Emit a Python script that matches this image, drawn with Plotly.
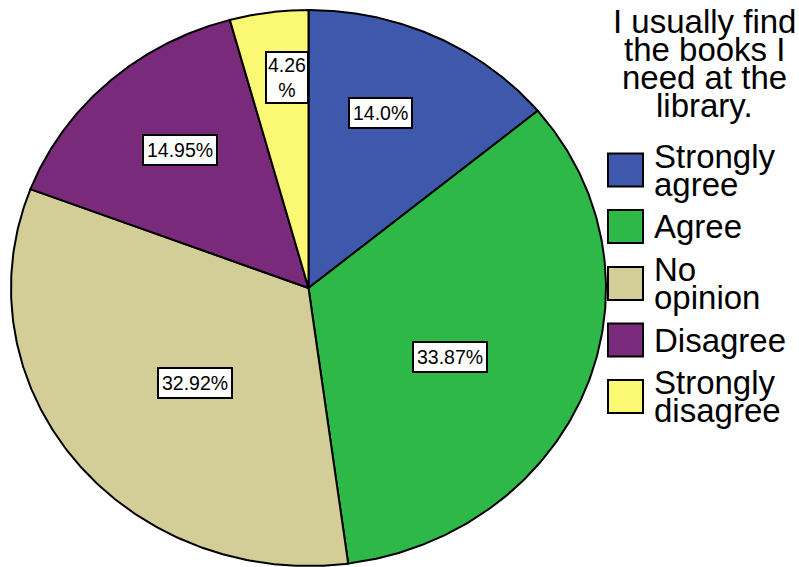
import numpy as np
import plotly.graph_objects as go

# Survey responses: "I usually find the books I need at the library."
title_lines = ["I usually find", "the books I", "need at the", "library."]
categories = ["Strongly agree", "Agree", "No opinion", "Disagree", "Strongly disagree"]
percents = [14.0, 33.87, 32.92, 14.95, 4.26]
colors = ["#3E58AC", "#2EB848", "#D3CE97", "#7A2A7A", "#FBF873"]

# Geometry (canvas pixels, y downwards)
W, H = 799, 567
CX, CY = 308.5, 288.0
RX, RY = 297.5, 278.0
FONT = "Liberation Sans, Arial, Helvetica, sans-serif"

# Data-label box centres, one per slice
label_pos = [(380, 113), (450, 357), (195, 383), (180, 150), (286.5, 77)]

fig = go.Figure()

# Slices, clockwise from 12 o'clock
start = 0.0
for cat, pct, col in zip(categories, percents, colors):
    a0 = start / 100 * 2 * np.pi
    a1 = (start + pct) / 100 * 2 * np.pi
    t = np.linspace(a0, a1, 200)
    xs = np.concatenate([[CX], CX + RX * np.sin(t), [CX]])
    ys = np.concatenate([[CY], CY - RY * np.cos(t), [CY]])
    fig.add_trace(go.Scatter(
        x=xs, y=ys, mode="lines", fill="toself", fillcolor=col,
        line=dict(color="black", width=2), name=cat,
        hoverinfo="name", showlegend=False,
    ))
    start += pct

annotations = []

# Percentage labels in white boxes
for pct, (lx, ly) in zip(percents, label_pos):
    txt = f"{pct}%"
    pad = 3
    if pct < 5:
        txt = f"{pct}<br>%"
        pad = 1
    annotations.append(dict(
        x=lx, y=ly, xref="x", yref="y", text=txt, showarrow=False,
        font=dict(family=FONT, size=19.5, color="black"),
        bgcolor="white", bordercolor="black", borderwidth=2, borderpad=pad,
        xanchor="center", yanchor="middle",
    ))

# Legend title
LFS = 33
def mid_from_baseline(b, size):
    return b - 0.33 * size

for i, line in enumerate(title_lines):
    annotations.append(dict(
        x=704, y=mid_from_baseline(32 + 28 * i, LFS), xref="x", yref="y",
        text=line, showarrow=False, xanchor="center", yanchor="middle",
        font=dict(family=FONT, size=LFS, color="black"),
    ))

# Legend swatches and labels
shapes = []
swatch_centres = [170, 226.5, 283.5, 340, 396.5]
for cat, col, yc in zip(categories, colors, swatch_centres):
    shapes.append(dict(
        type="rect", xref="x", yref="y", x0=608, x1=643,
        y0=yc - 16.5, y1=yc + 16.5, fillcolor=col,
        line=dict(color="black", width=2), layer="above",
    ))
    words = cat.split(" ")
    n = len(words)
    for i, w in enumerate(words):
        base = yc + 11 + (i - (n - 1) / 2) * 28
        annotations.append(dict(
            x=652, y=mid_from_baseline(base, LFS), xref="x", yref="y",
            text=w, showarrow=False, xanchor="left", yanchor="middle",
            font=dict(family=FONT, size=LFS, color="black"),
        ))

fig.update_layout(
    width=W, height=H,
    margin=dict(l=0, r=0, t=0, b=0),
    paper_bgcolor="white", plot_bgcolor="white",
    xaxis=dict(range=[0, W], visible=False, fixedrange=True),
    yaxis=dict(range=[H, 0], visible=False, fixedrange=True),
    annotations=annotations, shapes=shapes,
    showlegend=False,
)

fig.write_html("out.html")
